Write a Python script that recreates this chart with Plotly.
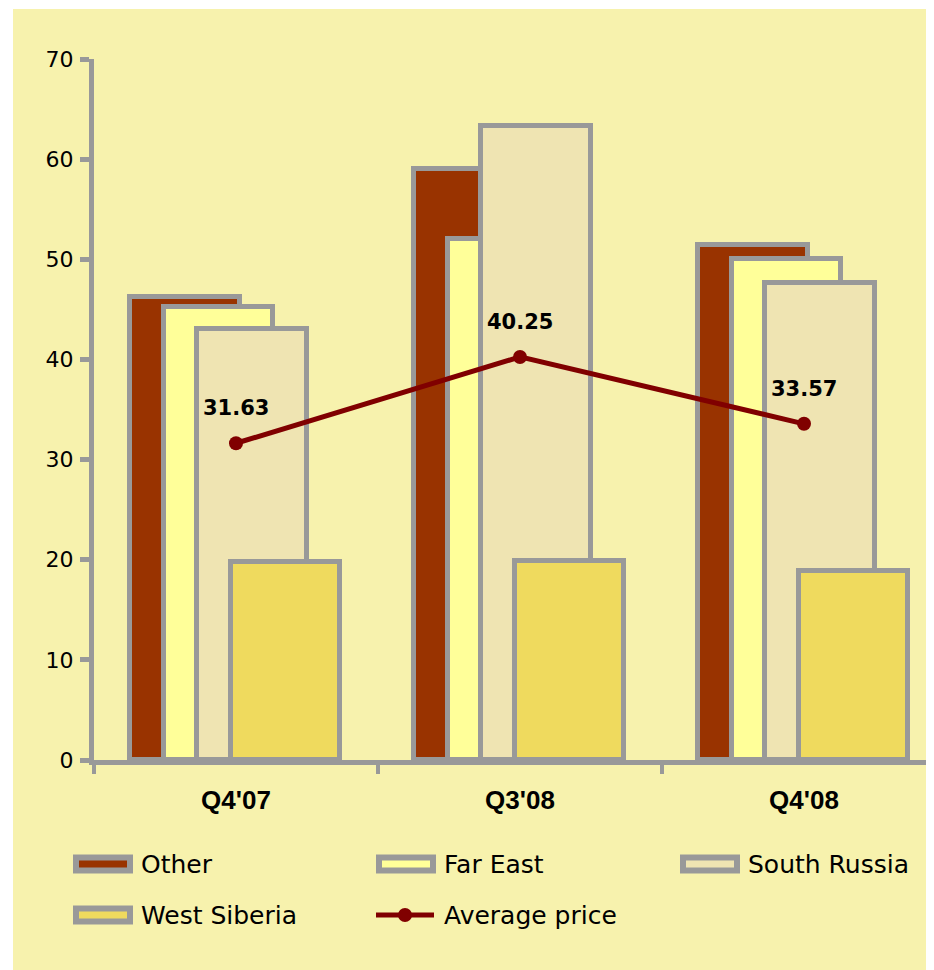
import plotly.graph_objects as go

# ---- data ----
categories = ["Q4'07", "Q3'08", "Q4'08"]
other = [46.2, 59.0, 51.4]
far_east = [45.2, 52.0, 50.0]
south_russia = [43.0, 63.3, 47.6]
west_siberia = [19.8, 19.9, 18.9]
average_price = [31.63, 40.25, 33.57]
series_names = ["Other", "Far East", "South Russia", "West Siberia", "Average price"]
y_ticks = [0, 10, 20, 30, 40, 50, 60, 70]

# ---- style (figure pixel coordinates; page adds an 8px body margin) ----
W, H = 934, 962
L, R, T, B = 86, 934, 51, 752
UNIT = 284.0  # px per category
BG = "#F7F2AD"
GRAY = "#999999"
bar_colors = ["#993300", "#FFFF99", "#EFE4B2", "#EFDA5E"]
line_color = "#800000"
bar_width = 0.385
bar_offsets = [-0.372, -0.254, -0.136, -0.018]


def px(x):
    return (x - L) / (R - L)


def py(y):
    return (B - y) / (B - T)


fig = go.Figure()

for vals, name, color, off in zip([other, far_east, south_russia, west_siberia],
                                  series_names[:4], bar_colors, bar_offsets):
    fig.add_trace(go.Bar(
        x=categories, y=vals, name=name, width=bar_width, offset=off,
        marker=dict(color=color, line=dict(color=GRAY, width=5)),
        showlegend=False, hoverinfo="x+y+name",
    ))

fig.add_trace(go.Scatter(
    x=categories, y=average_price, name=series_names[4], mode="lines+markers",
    line=dict(color=line_color, width=5),
    marker=dict(color=line_color, size=14),
    showlegend=False, cliponaxis=False,
))

annotations = []
for c, v in zip(categories, average_price):
    annotations.append(dict(
        x=c, y=v, xref="x", yref="y", text=f"{v:.2f}", showarrow=False,
        yshift=35, font=dict(family="DejaVu Sans", size=21, color="black", weight="bold"),
    ))

shapes = [dict(type="rect", xref="paper", yref="paper", layer="below",
               x0=px(5), x1=px(W + 5), y0=py(H + 5), y1=py(1),
               fillcolor=BG, line=dict(width=0))]

# ---- custom legend ----
col_x = [65, 368, 672]
row_y = [856, 907]
legend_fill = bar_colors + [None]
for i, name in enumerate(series_names):
    x0 = col_x[i % 3]
    yc = row_y[i // 3]
    if legend_fill[i] is not None:
        shapes.append(dict(type="rect", xref="paper", yref="paper",
                           x0=px(x0 + 3), x1=px(x0 + 57), y0=py(yc + 6.5), y1=py(yc - 6.5),
                           fillcolor=legend_fill[i], line=dict(color=GRAY, width=6)))
    else:
        shapes.append(dict(type="line", xref="paper", yref="paper",
                           x0=px(x0), x1=px(x0 + 58), y0=py(yc), y1=py(yc),
                           line=dict(color=line_color, width=5)))
        shapes.append(dict(type="circle", xref="paper", yref="paper",
                           x0=px(x0 + 22), x1=px(x0 + 36), y0=py(yc + 7), y1=py(yc - 7),
                           fillcolor=line_color, line=dict(color=line_color, width=0)))
    annotations.append(dict(x=px(x0 + 66), y=py(yc), xref="paper", yref="paper",
                            xanchor="left", yanchor="middle", text=name, showarrow=False,
                            font=dict(family="DejaVu Sans", size=25, color="black")))

fig.update_layout(
    width=W, height=H,
    margin=dict(l=L, r=W - R, t=T, b=H - B, pad=0),
    paper_bgcolor="white", plot_bgcolor="rgba(0,0,0,0)",
    barmode="overlay", bargap=0,
    showlegend=False,
    shapes=shapes, annotations=annotations,
    xaxis=dict(
        type="category", range=[-0.5, -0.5 + (R - L) / UNIT],
        showline=True, linecolor=GRAY, linewidth=5,
        ticks="outside", ticklen=9, tickwidth=4, tickcolor=GRAY,
        tickson="boundaries", showgrid=False, zeroline=False,
        tickfont=dict(family="Liberation Sans", size=26, color="black", weight="bold"),
        ticklabelstandoff=13,
    ),
    yaxis=dict(
        range=[0, 70], tickvals=y_ticks,
        showline=True, linecolor=GRAY, linewidth=5,
        ticks="outside", ticklen=9, tickwidth=5, tickcolor=GRAY,
        showgrid=False, zeroline=False,
        tickfont=dict(family="DejaVu Sans", size=22, color="black"),
        ticklabelstandoff=2,
    ),
)

fig.write_html("out.html")
